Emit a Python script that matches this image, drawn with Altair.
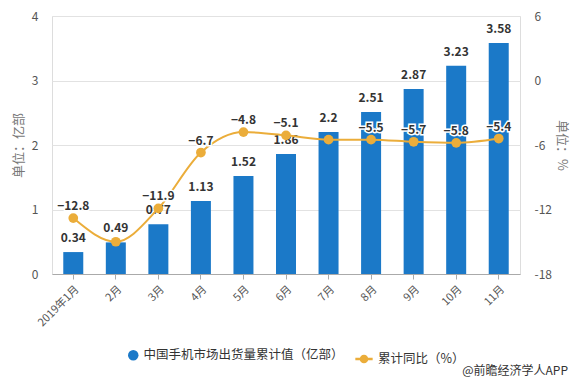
import altair as alt
import pandas as pd

months = ["2019年1月", "2月", "3月", "4月", "5月", "6月", "7月", "8月", "9月", "10月", "11月"]
shipments = [0.34, 0.49, 0.77, 1.13, 1.52, 1.86, 2.2, 2.51, 2.87, 3.23, 3.58]
growth = [-12.8, -15.0, -11.9, -6.7, -4.8, -5.1, -5.5, -5.5, -5.7, -5.8, -5.4]
show_growth_label = [True, False, True, True, True, True, False, True, True, True, True]

bar_name = "中国手机市场出货量累计值（亿部）"
line_name = "累计同比（%）"

FONT = "Noto Sans CJK SC"
BLUE = "#1B79C8"
ORANGE = "#EBAD3A"

df = pd.DataFrame({
    "month": months,
    "shipments": shipments,
    "growth": growth,
    "show": show_growth_label,
    "s1": bar_name,
    "s2": line_name,
})

x = alt.X("month:N", sort=months, title=None,
          scale=alt.Scale(paddingInner=0.52, paddingOuter=0.26),
          axis=alt.Axis(labelAngle=-45, labelFontSize=11, labelColor="#555",
                        domainColor="#aaa", tickColor="#aaa", tickSize=5,
                        labelPadding=4, labelFont=FONT))

yl_scale = alt.Scale(domain=[0, 4])
yl_axis = alt.Axis(values=[0, 1, 2, 3, 4], grid=True, gridColor="#e2e2e2",
                   domain=False, ticks=False, labelPadding=14,
                   labelColor="#555", labelFontSize=12, titleColor="#777",
                   titleFontSize=13, titleFontWeight="normal", titlePadding=6,
                   labelFont=FONT, titleFont=FONT)
yl = alt.Y("shipments:Q", title="单位：亿部", scale=yl_scale, axis=yl_axis)

yr_scale = alt.Scale(domain=[-18, 6])
yr_axis = alt.Axis(values=[-18, -12, -6, 0, 6], orient="right", grid=False,
                   domain=False, ticks=False, labelPadding=14,
                   labelExpr="datum.value + ''",
                   labelColor="#555", labelFontSize=12, titleColor="#777",
                   titleFontSize=13, titleFontWeight="normal", titlePadding=3,
                   labelFont=FONT, titleFont=FONT)
yr = alt.Y("growth:Q", title="单位：%", scale=yr_scale, axis=yr_axis)

base = alt.Chart(df)

bars = base.mark_bar(size=20).encode(
    x=x,
    y=yl,
    color=alt.Color("s1:N", scale=alt.Scale(domain=[bar_name], range=[BLUE]),
                    legend=alt.Legend(title=None, orient="none", legendX=75, legendY=333,
                                      symbolType="circle", symbolSize=110,
                                      labelFontSize=12.5, labelColor="#333",
                                      labelLimit=400, labelFont=FONT)),
)

bar_labels = base.mark_text(dy=-7, baseline="bottom", fontSize=12, fontWeight="bold",
                            color="#333", font=FONT).encode(
    x=x,
    y=yl,
    text=alt.Text("shipments:Q"),
)

left = alt.layer(bars, bar_labels)

line_sym = ("M-1,0L-0.35,0M0.35,0L1,0"
            "M-0.35,0A0.35,0.35 0 1,1 0.35,0A0.35,0.35 0 1,1 -0.35,0Z")

line = base.mark_line(interpolate="monotone", strokeWidth=2).encode(
    x=x,
    y=yr,
    stroke=alt.Stroke("s2:N", scale=alt.Scale(domain=[line_name], range=[ORANGE]),
                      legend=alt.Legend(title=None, orient="none", legendX=302, legendY=333,
                                        symbolType=line_sym, symbolSize=300,
                                        symbolStrokeWidth=2.5, symbolFillColor=ORANGE,
                                        labelFontSize=12.5, labelColor="#333",
                                        labelLimit=400, labelFont=FONT)),
)

points = base.mark_point(filled=True, size=95, color=ORANGE, opacity=1).encode(
    x=x,
    y=yr,
)

halo = base.transform_filter("datum.show").mark_text(
    dy=-12, fontSize=12, fontWeight="bold", color="white", stroke="white",
    strokeWidth=3, font=FONT).encode(
    x=x,
    y=yr,
    text=alt.Text("growth:Q", format=".1f"),
)

glabels = base.transform_filter("datum.show").mark_text(
    dy=-12, fontSize=12, fontWeight="bold", color="#333", font=FONT).encode(
    x=x,
    y=yr,
    text=alt.Text("growth:Q", format=".1f"),
)

right = alt.layer(line, points, halo, glabels)

credit = alt.Chart(pd.DataFrame({"t": ["@前瞻经济学人APP"]})).mark_text(
    align="right", baseline="middle", fontSize=12, color="#333", font=FONT).encode(
    x=alt.value(516), y=alt.value(355), text="t:N")

chart = alt.layer(left, right, credit).resolve_scale(
    y="independent", color="independent", stroke="independent"
).properties(
    width=468, height=258,
    autosize=alt.AutoSizeParams(type="none"),
    padding={"left": 44, "top": 8, "right": 53, "bottom": 109},
).configure_view(stroke=None).configure(font=FONT)

chart.save("out.html", embed_options={"renderer": "svg", "actions": False})
